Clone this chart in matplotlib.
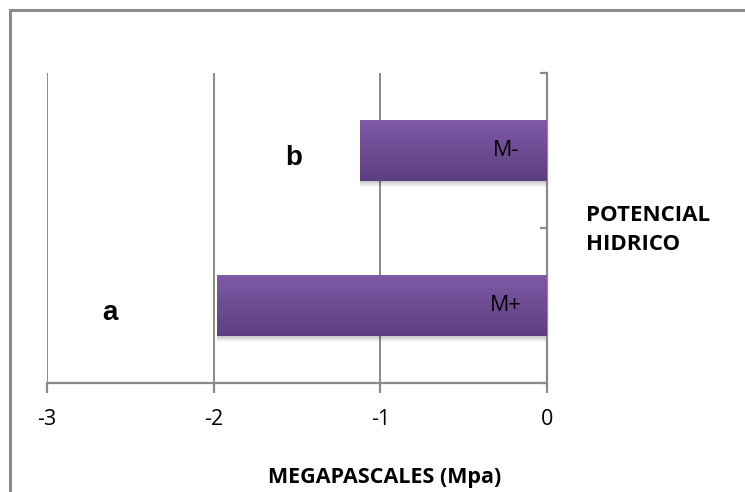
import numpy as np
import matplotlib
matplotlib.use("Agg")
import matplotlib.pyplot as plt
from matplotlib.patches import Rectangle
from matplotlib.colors import LinearSegmentedColormap

# Data
categories = ["M+", "M-"]
values = [-1.98, -1.12]
group_letters = ["a", "b"]
letter_x = [-2.62, -1.52]
x_ticks = [-3, -2, -1, 0]
x_label = "MEGAPASCALES (Mpa)"
legend_title = "POTENCIAL\nHIDRICO"

W, H = 745, 492
fig = plt.figure(figsize=(W / 100, H / 100), dpi=100)
font = "Open Sans"

# outer chart frame
fig.add_artist(plt.Line2D([10 / W, 10 / W], [0, 1 - 10 / H], color="#8c8c8c", lw=2.2,
                          transform=fig.transFigure))
fig.add_artist(plt.Line2D([10 / W, 1], [1 - 10 / H, 1 - 10 / H], color="#8c8c8c", lw=2.2,
                          transform=fig.transFigure))

ax = fig.add_axes([47 / W, (H - 383) / H, 500 / W, 310 / H])
ax.set_xlim(-3, 0)
ax.set_ylim(-0.5, 1.5)

grid_c = "#8a8a8a"
for s in ["top", "left"]:
    ax.spines[s].set_visible(False)
for s in ["bottom", "right"]:
    ax.spines[s].set_color(grid_c)
    ax.spines[s].set_linewidth(1.6)

ax.set_xticks(x_ticks)
ax.set_xticklabels([str(t) for t in x_ticks], fontsize=15.5, family=font)
ax.tick_params(axis="x", direction="out", length=7, width=1.6, color=grid_c, pad=12)
ax.xaxis.grid(True, color=grid_c, lw=1.4)
ax.set_axisbelow(True)

ax.yaxis.tick_right()
ax.set_yticks([-0.5, 0.5, 1.5])
ax.set_yticklabels([])
ax.tick_params(axis="y", direction="in", length=5, width=1.6, color=grid_c)

bar_h = 0.4
cmap = LinearSegmentedColormap.from_list("purp", ["#5d3f80", "#7f5aa7"])
grad = np.linspace(0, 1, 256).reshape(-1, 1)
y_pos = np.arange(len(categories))

bars = ax.barh(y_pos, values, height=bar_h, color="none", edgecolor="none", zorder=3)
for bar, v, lab in zip(bars, values, categories):
    x0, y0 = bar.get_x(), bar.get_y()
    w, h = bar.get_width(), bar.get_height()
    # soft drop shadow
    for k, a in enumerate([0.10, 0.07, 0.04]):
        off = 0.012 * (k + 1)
        ax.add_patch(Rectangle((x0 + 0.01, y0 - off), w - 0.01, h, color="black",
                               alpha=a, lw=0, zorder=2))
    im = ax.imshow(grad, cmap=cmap, aspect="auto", origin="lower",
                   extent=(x0, x0 + w, y0, y0 + h), zorder=3)
    im.set_clip_path(bar)
    ax.text(-0.245, bar.get_y() + h / 2, lab, ha="center", va="center",
            fontsize=15.5, family=font, color="black", zorder=4)

for i, (lx, letter) in enumerate(zip(letter_x, group_letters)):
    ax.text(lx, y_pos[i] - 0.05, letter, ha="center", va="center",
            fontsize=20, fontweight="bold", family="Liberation Sans", zorder=4)

ax.set_xlim(-3, 0)
ax.set_ylim(-0.5, 1.5)

fig.text(586 / W, 1 - 230 / H, legend_title, ha="left", va="center", fontsize=16,
         fontweight="bold", family=font, linespacing=1.5)
fig.text(385 / W, 1 - 477 / H, x_label, ha="center", va="center", fontsize=15.5,
         fontweight="bold", family=font)

fig.savefig("out.png", dpi=100, facecolor="white")
